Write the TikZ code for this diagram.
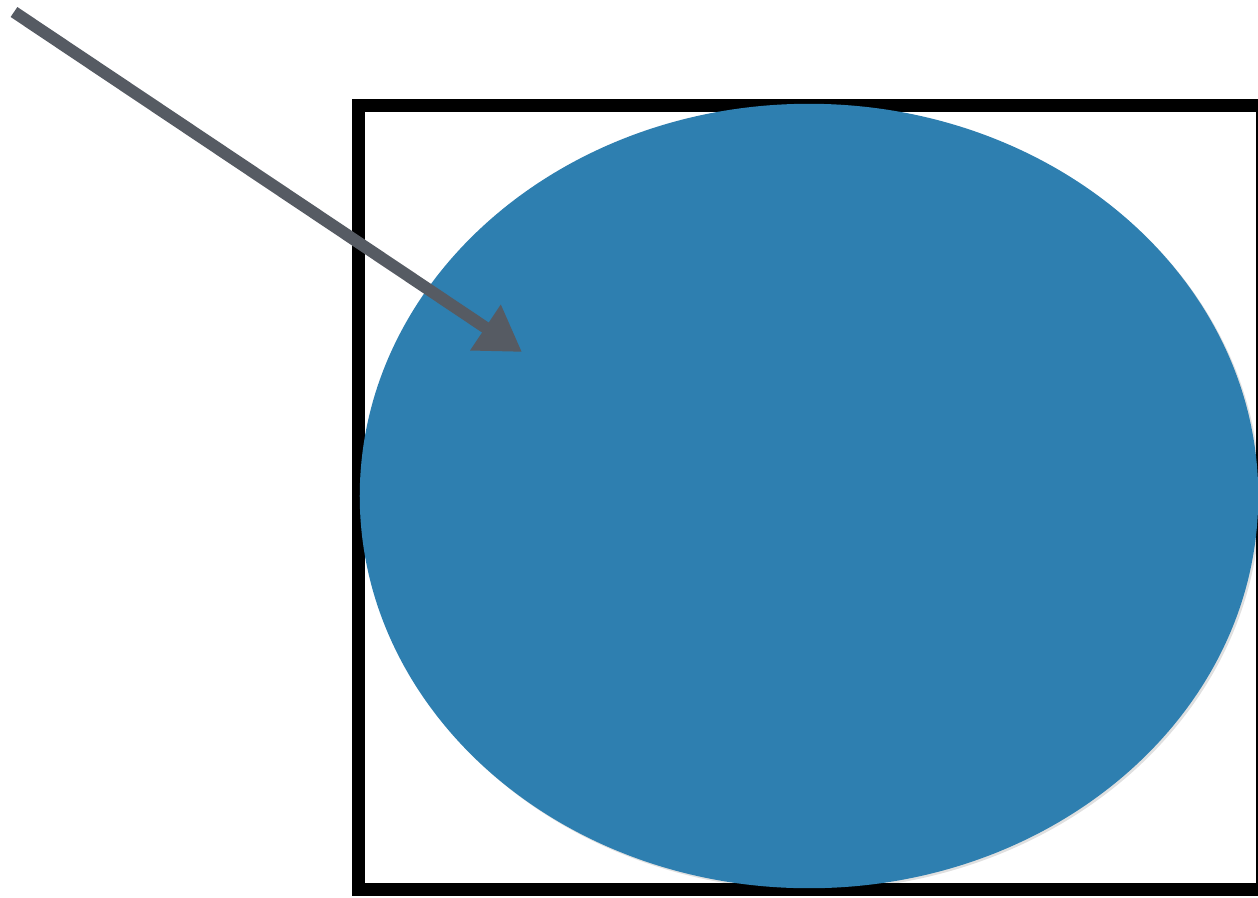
\documentclass[tikz,border=0pt]{standalone}
\usetikzlibrary{arrows.meta}
\definecolor{diskblue}{RGB}{46,127,176}
\definecolor{arrowgray}{RGB}{86,91,99}
\begin{document}
\begin{tikzpicture}[x=0.01cm, y=-0.01cm]
  % Picture area, same size as the reference (1px = 0.01cm)
  \useasboundingbox (0,0) rectangle (1258,897);
  \clip (0,0) rectangle (1258,897);
  % Thick black frame (right side runs off the edge)
  \draw[line width=0.13cm] (358.5,105.5) rectangle (1262.5,889);
  % Soft shadow under the disk
  \fill[black, opacity=0.12] (811,498) ellipse (4.49cm and 3.92cm);
  % Blue disk
  \fill[diskblue] (809,496) ellipse (4.49cm and 3.92cm);
  % Pointer arrow into the disk
  \coordinate (tail) at (14,12);
  \coordinate (tip) at (522,352);
  \draw[arrowgray, line width=0.12cm, -{Triangle[length=0.44cm, width=0.52cm]}] (tail) -- (tip);
\end{tikzpicture}
\end{document}
